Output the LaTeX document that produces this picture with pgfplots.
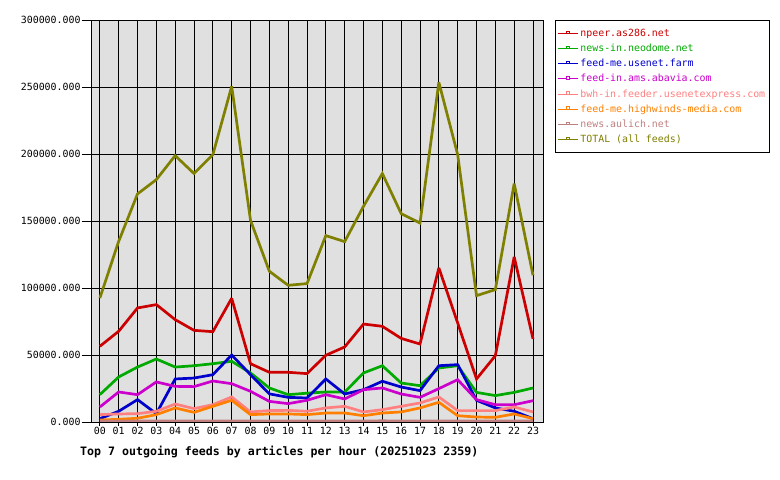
\documentclass[border=0pt]{standalone}
\usepackage{fontspec}
\setmainfont{DejaVu Sans Mono}
\setmonofont{DejaVu Sans Mono}
\usepackage{pgfplots}
\pgfplotsset{compat=1.18}

\definecolor{bgray}{RGB}{224,224,224}
\definecolor{cnpeer}{RGB}{204,0,0}
\definecolor{cneodome}{RGB}{0,170,0}
\definecolor{cfarm}{RGB}{0,0,204}
\definecolor{cabavia}{RGB}{204,0,204}
\definecolor{cuex}{RGB}{255,128,128}
\definecolor{chigh}{RGB}{255,128,0}
\definecolor{caulich}{RGB}{192,128,128}
\definecolor{ctotal}{RGB}{128,128,0}

\pgfplotsset{
  hourframe/.style={
    at={(91bp,58bp)}, anchor=south west,
    scale only axis, width=452bp, height=402bp,
    xmin=-0.47, xmax=23.53,
    xtick={0,...,23},
  },
}

\begin{document}
\begin{tikzpicture}
\useasboundingbox (0,0) rectangle (780bp,480bp);
\begin{axis}[
  hourframe,
  ymin=0, ymax=300000,
  axis background/.style={fill=bgray},
  axis line style={black, line width=0.9bp},
  grid=major,
  major grid style={black, line width=0.8bp},
  xticklabels={00,01,02,03,04,05,06,07,08,09,10,11,12,13,14,15,16,17,18,19,20,21,22,23},
  ytick={0,50000,100000,150000,200000,250000,300000},
  yticklabels={0.000,50000.000,100000.000,150000.000,200000.000,250000.000,300000.000},
  /pgf/number format/assume math mode=true,
  scaled y ticks=false,
  tick pos=left,
  tick align=outside,
  major tick length=9bp,
  xtick style={draw=none},
  ytick style={black, line width=0.8bp},
  tick label style={font=\fontsize{9.9bp}{11bp}\selectfont},
  xticklabel style={yshift=7bp},
  yticklabel style={xshift=2bp},
  every axis plot/.append style={line width=2.7bp, line join=miter, miter limit=2.5, mark=none},
  legend cell align=left,
  legend style={at={(1.0265,1.0)}, anchor=north west, draw=black, line width=0.9bp,
    fill=white, font=\fontsize{9.9bp}{11bp}\selectfont, inner xsep=2bp, inner ysep=6.5bp,
    row sep=2.2bp},
  legend image code/.code={
    \draw[line width=1bp] (0bp,0bp) -- (20bp,0bp);
    \draw[line width=0.7bp, fill=white] (8.5bp,0bp) rectangle (11.5bp,2.5bp);
  },
]
\addplot[cnpeer] coordinates {
(0,56500)(1,67700)(2,85100)(3,87600)(4,76400)(5,68400)(6,67400)(7,92300)
(8,43500)(9,37100)(10,37100)(11,36100)(12,49800)(13,56000)(14,73100)(15,71400)
(16,62400)(17,58200)(18,115000)(19,73900)(20,32100)(21,49500)(22,123200)(23,62000)};
\addlegendentry{\textcolor{cnpeer}{npeer.as286.net}}
\addplot[cneodome] coordinates {
(0,20400)(1,33600)(2,41000)(3,47000)(4,41000)(5,42000)(6,43500)(7,45300)
(8,36600)(9,25400)(10,20400)(11,21500)(12,22400)(13,22300)(14,36600)(15,42000)
(16,29100)(17,27100)(18,40300)(19,42000)(20,22100)(21,19700)(22,22100)(23,25400)};
\addlegendentry{\textcolor{cneodome}{news-in.neodome.net}}
\addplot[cfarm] coordinates {
(0,2500)(1,8000)(2,16700)(3,6200)(4,32100)(5,32800)(6,35300)(7,50000)
(8,35300)(9,21000)(10,18400)(11,17900)(12,32100)(13,20900)(14,24100)(15,30400)
(16,26100)(17,23400)(18,42000)(19,42800)(20,16200)(21,10500)(22,8000)(23,2500)};
\addlegendentry{\textcolor{cfarm}{feed-me.usenet.farm}}
\addplot[cabavia] coordinates {
(0,11200)(1,22400)(2,20400)(3,29900)(4,26600)(5,26400)(6,30600)(7,28600)
(8,22900)(9,15400)(10,13700)(11,16200)(12,20400)(13,17200)(14,24100)(15,25400)
(16,20900)(17,18400)(18,24900)(19,31600)(20,16700)(21,12900)(22,12900)(23,15900)};
\addlegendentry{\textcolor{cabavia}{feed-in.ams.abavia.com}}
\addplot[cuex] coordinates {
(0,5500)(1,6000)(2,6200)(3,8000)(4,13400)(5,10000)(6,12900)(7,18700)
(8,7500)(9,8500)(10,8700)(11,8000)(12,10500)(13,11700)(14,7500)(15,9200)
(16,11700)(17,14200)(18,18700)(19,8500)(20,8500)(21,8500)(22,11200)(23,7500)};
\addlegendentry{\textcolor{cuex}{bwh-in.feeder.usenetexpress.com}}
\addplot[chigh] coordinates {
(0,1500)(1,2000)(2,2800)(3,5500)(4,10500)(5,7200)(6,11700)(7,16200)
(8,5500)(9,6000)(10,6000)(11,5500)(12,6700)(13,6700)(14,4700)(15,6700)
(16,7500)(17,10500)(18,14700)(19,4700)(20,3700)(21,3500)(22,6000)(23,2500)};
\addlegendentry{\textcolor{chigh}{feed-me.highwinds-media.com}}
\addplot[caulich] coordinates {
(0,700)(1,700)(2,700)(3,700)(4,700)(5,700)(6,700)(7,700)
(8,700)(9,700)(10,700)(11,700)(12,700)(13,700)(14,700)(15,900)
(16,700)(17,700)(18,700)(19,700)(20,700)(21,700)(22,700)(23,700)};
\addlegendentry{\textcolor{caulich}{news.aulich.net}}
\addplot[ctotal] coordinates {
(0,92500)(1,134800)(2,170200)(3,180900)(4,198800)(5,185400)(6,199500)(7,250500)
(8,150500)(9,112500)(10,102000)(11,103300)(12,139100)(13,134600)(14,161000)(15,185400)
(16,155500)(17,148500)(18,253500)(19,199500)(20,94300)(21,98800)(22,177900)(23,109500)};
\addlegendentry{\textcolor{ctotal}{TOTAL (all feeds)}}
\end{axis}
% short hour ticks below the frame
\begin{axis}[
  hourframe,
  ymin=0, ymax=1,
  hide y axis,
  axis x line*=bottom,
  x axis line style={draw=none},
  xticklabels={},
  tick align=outside,
  major tick length=4.5bp,
  xtick style={black, line width=0.8bp},
]
\end{axis}
\node[anchor=base west, inner sep=0pt, font=\bfseries\fontsize{11.6bp}{13bp}\selectfont]
  at (80bp,25bp) {Top 7 outgoing feeds by articles per hour (20251023 2359)};
\end{tikzpicture}
\end{document}
